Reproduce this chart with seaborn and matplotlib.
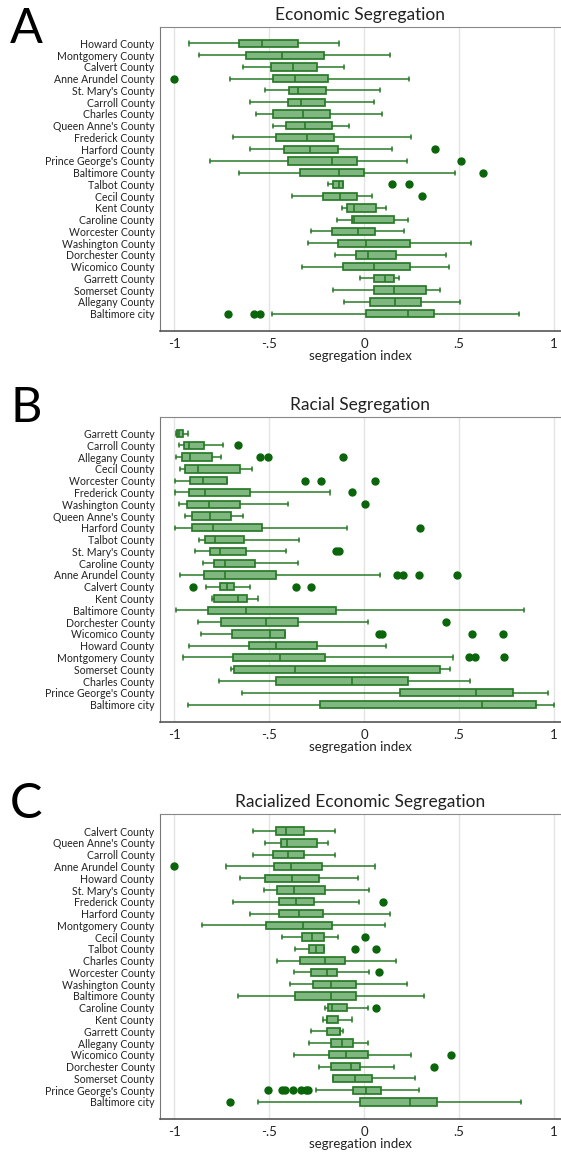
import numpy as np
import seaborn as sns
import matplotlib.pyplot as plt

# ---- A: economic segregation (box stats) ----
counties_econ = ["Howard County", "Montgomery County", "Calvert County", "Anne Arundel County",
                 "St. Mary's County", "Carroll County", "Charles County", "Queen Anne's County",
                 "Frederick County", "Harford County", "Prince George's County", "Baltimore County",
                 "Talbot County", "Cecil County", "Kent County", "Caroline County",
                 "Worcester County", "Washington County", "Dorchester County", "Wicomico County",
                 "Garrett County", "Somerset County", "Allegany County", "Baltimore city"]
lo_econ = [-0.92, -0.87, -0.635, -0.705, -0.52, -0.60, -0.57, -0.48, -0.69, -0.60, -0.81, -0.66,
           -0.19, -0.378, -0.114, -0.141, -0.281, -0.296, -0.152, -0.328, -0.021, -0.165, -0.103, -0.484]
q1_econ = [-0.66, -0.62, -0.49, -0.48, -0.395, -0.40, -0.48, -0.41, -0.465, -0.42, -0.40, -0.338,
           -0.162, -0.216, -0.088, -0.062, -0.167, -0.139, -0.043, -0.113, 0.051, 0.051, 0.034, 0.011]
med_econ = [-0.535, -0.43, -0.375, -0.365, -0.345, -0.33, -0.32, -0.31, -0.30, -0.285, -0.17, -0.134,
            -0.131, -0.128, -0.053, -0.053, -0.034, 0.013, 0.019, 0.051, 0.111, 0.159, 0.161, 0.229]
q3_econ = [-0.35, -0.21, -0.25, -0.19, -0.20, -0.205, -0.18, -0.17, -0.16, -0.135, -0.037, 0.002,
           -0.108, -0.035, 0.064, 0.159, 0.058, 0.244, 0.167, 0.244, 0.159, 0.326, 0.300, 0.366]
hi_econ = [-0.13, 0.135, -0.105, 0.235, 0.085, 0.05, 0.095, -0.08, 0.245, 0.145, 0.225, 0.48,
           -0.108, 0.042, 0.116, 0.231, 0.208, 0.561, 0.432, 0.450, 0.182, 0.401, 0.507, 0.816]
out_econ = [[], [], [], [-1.0], [], [], [], [], [], [0.372], [0.51], [0.627],
            [0.145, 0.237], [0.303], [], [], [], [], [], [], [], [], [], [-0.717, -0.58, -0.546]]

# ---- B: racial segregation ----
counties_race = ["Garrett County", "Carroll County", "Allegany County", "Cecil County",
                 "Worcester County", "Frederick County", "Washington County", "Queen Anne's County",
                 "Harford County", "Talbot County", "St. Mary's County", "Caroline County",
                 "Anne Arundel County", "Calvert County", "Kent County", "Baltimore County",
                 "Dorchester County", "Wicomico County", "Howard County", "Montgomery County",
                 "Somerset County", "Charles County", "Prince George's County", "Baltimore city"]
lo_race = [-0.992, -0.974, -0.992, -0.970, -0.994, -0.994, -0.974, -0.940, -0.994, -0.869, -0.891, -0.848,
           -0.970, -0.833, -0.799, -0.991, -0.874, -0.857, -0.921, -0.955, -0.700, -0.764, -0.640, -0.925]
q1_race = [-0.983, -0.946, -0.959, -0.940, -0.917, -0.923, -0.932, -0.904, -0.906, -0.839, -0.811, -0.792,
           -0.844, -0.758, -0.792, -0.822, -0.752, -0.694, -0.606, -0.692, -0.687, -0.463, 0.191, -0.231]
med_race = [-0.972, -0.921, -0.916, -0.876, -0.848, -0.837, -0.818, -0.811, -0.797, -0.782, -0.758, -0.732,
            -0.732, -0.720, -0.662, -0.619, -0.518, -0.493, -0.462, -0.441, -0.364, -0.062, 0.587, 0.619]
q3_race = [-0.953, -0.844, -0.799, -0.655, -0.719, -0.598, -0.655, -0.702, -0.537, -0.630, -0.619, -0.574,
           -0.462, -0.687, -0.614, -0.150, -0.349, -0.417, -0.250, -0.206, 0.398, 0.231, 0.784, 0.908]
hi_race = [-0.925, -0.743, -0.752, -0.589, -0.719, -0.178, -0.398, -0.636, -0.090, -0.340, -0.409, -0.349,
           0.086, -0.602, -0.559, 0.842, 0.023, -0.417, 0.114, 0.467, 0.452, 0.557, 0.968, 1.0]
out_race = [[], [-0.666], [-0.548, -0.507, -0.113], [], [-0.313, -0.229, 0.056], [-0.062], [0.004], [],
            [0.295], [], [-0.150, -0.131], [], [0.173, 0.206, 0.287, 0.492], [-0.902, -0.356, -0.280], [], [],
            [0.430], [0.080, 0.094, 0.570, 0.732], [], [0.553, 0.585, 0.735], [], [], [], []]

# ---- C: racialized economic segregation ----
counties_ice = ["Calvert County", "Queen Anne's County", "Carroll County", "Anne Arundel County",
                "Howard County", "St. Mary's County", "Frederick County", "Harford County",
                "Montgomery County", "Cecil County", "Talbot County", "Charles County",
                "Worcester County", "Washington County", "Baltimore County", "Caroline County",
                "Kent County", "Garrett County", "Allegany County", "Wicomico County",
                "Dorchester County", "Somerset County", "Prince George's County", "Baltimore city"]
lo_ice = [-0.582, -0.523, -0.585, -0.726, -0.651, -0.527, -0.689, -0.602, -0.854, -0.433, -0.364, -0.457,
          -0.370, -0.392, -0.662, -0.204, -0.216, -0.278, -0.287, -0.368, -0.238, -0.165, -0.253, -0.559]
q1_ice = [-0.465, -0.439, -0.478, -0.475, -0.523, -0.460, -0.445, -0.450, -0.514, -0.325, -0.287, -0.339,
          -0.278, -0.269, -0.365, -0.191, -0.193, -0.193, -0.173, -0.186, -0.174, -0.161, -0.060, -0.019]
med_ice = [-0.413, -0.403, -0.401, -0.383, -0.381, -0.366, -0.358, -0.341, -0.319, -0.272, -0.253, -0.207,
           -0.196, -0.175, -0.172, -0.169, -0.193, -0.128, -0.114, -0.094, -0.068, -0.047, 0.013, 0.240]
q3_ice = [-0.317, -0.246, -0.317, -0.221, -0.238, -0.203, -0.261, -0.214, -0.171, -0.212, -0.210, -0.099,
          -0.144, -0.043, -0.042, -0.088, -0.137, -0.124, -0.056, 0.019, -0.021, 0.041, 0.090, 0.383]
hi_ice = [-0.152, -0.191, -0.152, 0.056, -0.034, 0.024, -0.024, 0.135, 0.113, -0.135, -0.210, 0.168,
          0.026, 0.225, 0.317, 0.021, -0.062, -0.113, 0.019, 0.246, 0.159, 0.270, 0.289, 0.826]
out_ice = [[], [], [], [-1.0], [], [], [0.099], [], [], [0.004], [-0.049, 0.064], [],
           [0.078], [], [], [0.061], [], [], [], [0.460], [0.368], [],
           [-0.508, -0.432, -0.417, -0.375, -0.334, -0.304, -0.293], [-0.705]]

xticks = [-1, -0.5, 0, 0.5, 1]
xticklabels = ["-1", "-.5", "0", ".5", "1"]

sns.set_style("white")
plt.rcParams['font.family'] = ['Lato', 'DejaVu Sans']

face = "#80b680"
edge = "#287a28"
dot = "#0b650b"


def draw_panel(ax, names, lo, q1, med, q3, hi, out, title):
    stats = []
    for n, a, b, c, d, e, f in zip(names, lo, q1, med, q3, hi, out):
        stats.append(dict(label=n, whislo=a, q1=b, med=c, q3=d, whishi=e, fliers=np.array(f)))
    n = len(names)
    ax.bxp(stats, positions=np.arange(n), orientation='horizontal', widths=0.62, capwidths=0.35,
           patch_artist=True, manage_ticks=False,
           boxprops=dict(facecolor=face, edgecolor=edge, linewidth=1.25),
           medianprops=dict(color=edge, linewidth=1.2),
           whiskerprops=dict(color=edge, linewidth=1.1),
           capprops=dict(color=edge, linewidth=1.1),
           flierprops=dict(marker='o', markerfacecolor=dot, markeredgecolor=dot, markersize=5))
    ax.set_yticks(np.arange(n))
    ax.set_yticklabels(names, fontsize=7.6, color="#222222")
    ax.set_ylim(n - 1 + 1.45, -1.43)
    ax.set_xlim(-1.074, 1.037)
    ax.set_xticks(xticks)
    ax.set_xticklabels(xticklabels, fontsize=9.5, color="#222222")
    ax.set_axisbelow(True)
    ax.grid(axis='x', color="#e4e4e4", linewidth=1.0)
    ax.grid(axis='y', visible=False)
    ax.tick_params(axis='y', length=0, pad=4)
    ax.tick_params(axis='x', length=3, color="#666666", direction='out', pad=2)
    ax.set_xlabel("segregation index", fontsize=9.5, labelpad=0, color="#222222")
    ax.set_title(title, fontsize=12.5, pad=5, color="#222222")
    ax.spines['left'].set_color("#777777")
    ax.spines['bottom'].set_color("#555555")
    ax.spines['bottom'].set_linewidth(1.2)
    ax.spines['top'].set_color("#888888")
    ax.spines['right'].set_visible(False)


fig = plt.figure(figsize=(5.61, 11.59), dpi=100)
ax_a = fig.add_axes([0.2852, 0.7147, 0.7148, 0.2623])
ax_b = fig.add_axes([0.2852, 0.3773, 0.7148, 0.2632])
ax_c = fig.add_axes([0.2852, 0.0345, 0.7148, 0.2629])

draw_panel(ax_a, counties_econ, lo_econ, q1_econ, med_econ, q3_econ, hi_econ, out_econ,
           "Economic Segregation")
draw_panel(ax_b, counties_race, lo_race, q1_race, med_race, q3_race, hi_race, out_race,
           "Racial Segregation")
draw_panel(ax_c, counties_ice, lo_ice, q1_ice, med_ice, q3_ice, hi_ice, out_ice,
           "Racialized Economic Segregation")

for letter, yb in [("A", 0.9629), ("B", 0.6359), ("C", 0.2942)]:
    fig.text(0.018, yb, letter, fontsize=35, va='baseline', ha='left', color="black")

fig.savefig("out.png", dpi=100)
